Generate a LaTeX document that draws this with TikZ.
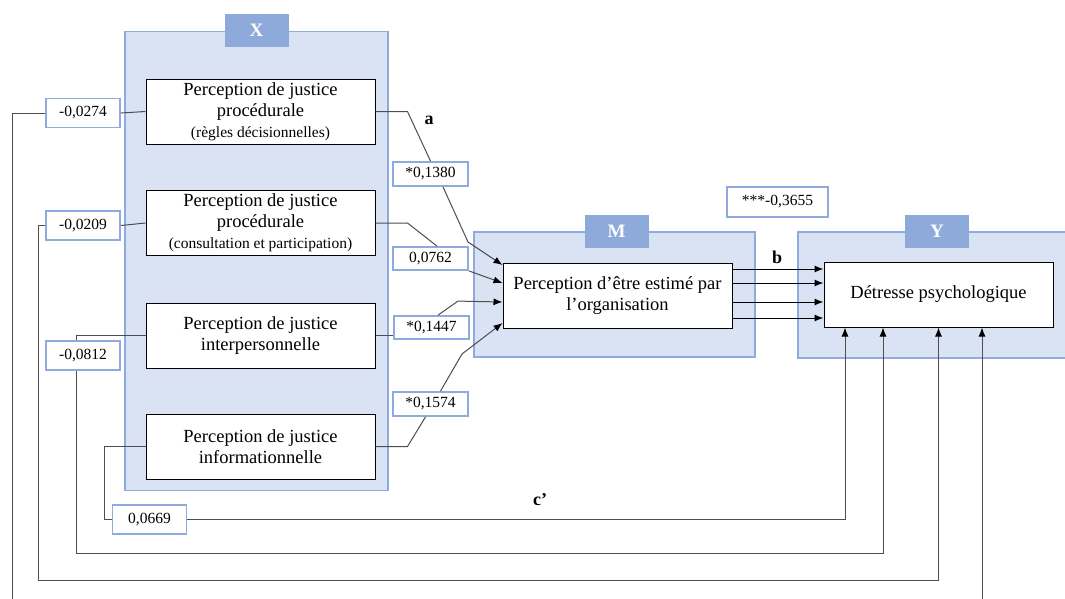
\documentclass[tikz,border=0pt]{standalone}
\usepackage{fontspec}
\setmainfont{Liberation Serif}
\usetikzlibrary{arrows.meta, positioning}

\definecolor{grpfill}{HTML}{DAE3F3}
\definecolor{grpline}{HTML}{8FAADC}
\definecolor{tabfill}{HTML}{8EAADB}
\definecolor{wiregray}{HTML}{4D4D4D}

\begin{document}
\begin{tikzpicture}[x=1pt,y=-1pt,font=\fontsize{18.5}{21}\selectfont]
\tikzset{
  group/.style={draw=grpline, fill=grpfill, line width=1.6pt, inner sep=0},
  tab/.style={fill=tabfill, text=white, font=\fontsize{19}{19}\selectfont\bfseries,
    minimum width=64pt, minimum height=33pt, inner sep=0},
  var/.style={draw=black, fill=white, line width=1pt, minimum width=229pt,
    minimum height=65pt, align=center, inner sep=0},
  coef/.style={draw=grpline, fill=white, line width=1.8pt, minimum width=74pt,
    minimum height=29pt, inner sep=0, font=\fontsize{15.5}{15.5}\selectfont},
  lbl/.style={font=\fontsize{18}{18}\selectfont\bfseries},
  wire/.style={draw=wiregray, line width=1pt},
  arr/.style={wire, -{Latex[length=9pt,width=7pt,color=black]}}
}
\useasboundingbox (0,0) rectangle (1065,598);

% groups
\node[group, minimum width=263pt, minimum height=459pt] (X) at (256.5,261) {};
\node[group, minimum width=281pt, minimum height=125pt] (M) at (614.5,294.5) {};
\node[group, minimum width=278pt, minimum height=126pt] (Y) at (937,295) {};
\node[tab] (tX) at (X.north) {X};
\node[tab] (tM) at ([xshift=2pt]M.north) {M};
\node[tab] (tY) at (Y.north) {Y};

% variables
\node[var] (P1) at (260.5,111.5) {Perception de justice\\procédurale\\{\fontsize{15.5}{21}\selectfont (règles décisionnelles)}};
\node[var] (P2) at (260.5,223) {Perception de justice\\procédurale\\{\fontsize{15.5}{21}\selectfont (consultation et participation)}};
\node[var] (P3) at (260.5,335.5) {Perception de justice\\interpersonnelle};
\node[var] (P4) at (260.5,446.5) {Perception de justice\\informationnelle};
\node[var] (Mi) at (617.5,295.5) {Perception d’être estimé par\\l’organisation};
\node[var] (Yi) at (938.5,294.5) {Détresse psychologique};

% coefficients
\node[coef] (c1) at (83,113) {-0,0274};
\node[coef] (c2) at (83,225.5) {-0,0209};
\node[coef] (c3) at (83,355.5) {-0,0812};
\node[coef] (c4) at (149.5,519.5) {0,0669};
\node[coef, minimum height=24pt, minimum width=75pt] (a1) at (430.5,174) {*0,1380};
\node[coef, minimum height=23pt, minimum width=75pt] (a2) at (430.5,258.5) {0,0762};
\node[coef, minimum height=23pt, minimum width=75pt] (a3) at (431.5,327.5) {*0,1447};
\node[coef, minimum height=24pt, minimum width=75pt] (a4) at (430.5,404) {*0,1574};
\node[coef, minimum width=101pt, minimum height=30pt] (bc) at (777.5,202) {***-0,3655};

\node[lbl] (la) at (429,120) {a};
\node[lbl] (lb) at (777,257) {b};
\node[lbl] (lc) at (540,500) {c’};

% a paths
\draw[wire] (P1.east) -- ++(32,0) -- (a1.north);
\draw[arr] ([xshift=12.5pt]a1.south) -- (468,242) -- ([yshift=30.5pt]Mi.west);
\draw[wire] (P2.east) -- ++(32,0) -- ([xshift=6.5pt]a2.north);
\draw[arr] (a2.south east) -- ([yshift=12.5pt]Mi.west);
\draw[wire] (P3.east) -- (P3.east -| a3.west);
\draw[arr] ([xshift=6.5pt]a3.north) -- ++(20,-14) -- ([yshift=-6.5pt]Mi.west);
\draw[wire] (P4.east) -- ++(32,0) -- ([xshift=-5pt]a4.south);
\draw[arr] ([xshift=10pt]a4.north) -- (462,354) -- ([yshift=-27.5pt]Mi.west);

% b paths
\foreach \dy in {26.5,12.5,-6.5,-22.5}
  \draw[arr, draw=black] ([yshift=\dy pt]Mi.east) -- ([yshift=\dy pt]Mi.east -| Yi.west);

% c' paths
\draw[wire] (P1.west) -- (c1.east);
\draw[arr] (c1.west) -| (12,615) -| ([xshift=43.5pt]Yi.south);
\draw[wire] (P2.west) -- (c2.east);
\draw[arr] (c2.west) -| (38,580) -| (Yi.south);
\draw[wire] (P3.west) -| ([xshift=-7pt]c3.north);
\draw[arr] ([xshift=-7pt]c3.south) -- ++(0,183) -| ([xshift=-55.5pt]Yi.south);
\draw[wire] (P4.west) -- ++(-41,0) |- (c4.west);
\draw[arr] (c4.east) -| ([xshift=-93.5pt]Yi.south);
\end{tikzpicture}
\end{document}
